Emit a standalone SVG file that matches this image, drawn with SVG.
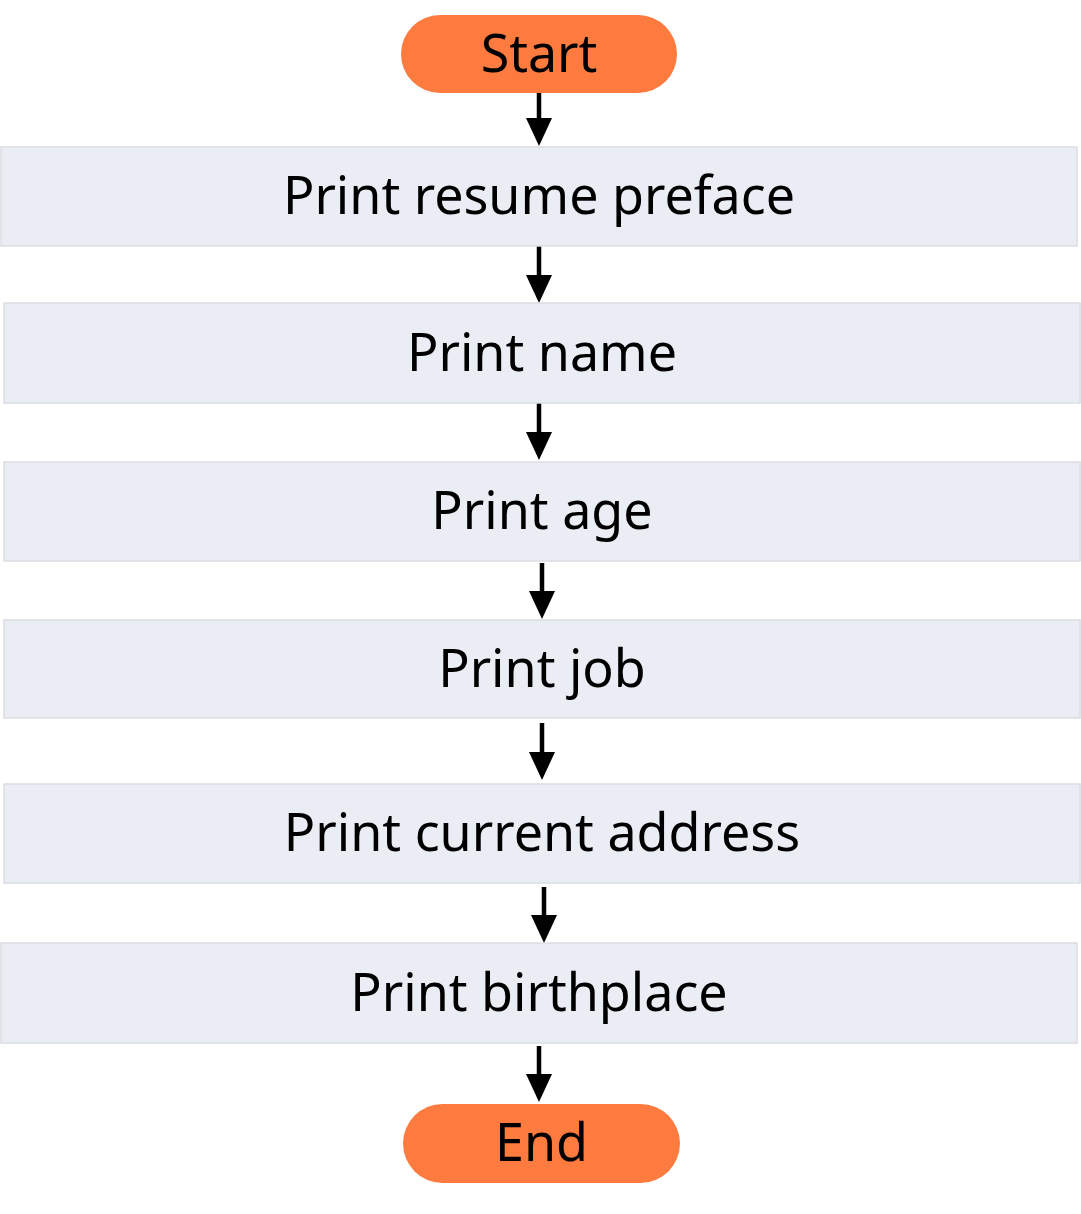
<svg xmlns="http://www.w3.org/2000/svg" width="1081" height="1214" viewBox="0 0 1081 1214">
<style>
.term{fill:#FE7B40;}
.box{fill:#EBEDF5;stroke:#DCDDE2;stroke-width:1.5;}
.lbl{font-family:"Noto Sans","Open Sans",sans-serif;font-size:52px;fill:#000;text-anchor:middle;}
.edge{stroke:#000;stroke-width:4.5;fill:none;}
.head{fill:#000;}
</style>
<rect width="1081" height="1214" fill="#fff"/>
<g id="connectors">
<line class="edge" x1="539" y1="93" x2="539" y2="120"/><path class="head" d="M526,118 L552,118 L539,146 Z"/>
<line class="edge" x1="539" y1="246" x2="539" y2="277"/><path class="head" d="M526,275 L552,275 L539,303 Z"/>
<line class="edge" x1="539" y1="403" x2="539" y2="434"/><path class="head" d="M526,432 L552,432 L539,460 Z"/>
<line class="edge" x1="542" y1="563" x2="542" y2="593"/><path class="head" d="M529,591 L555,591 L542,619 Z"/>
<line class="edge" x1="542" y1="723" x2="542" y2="754"/><path class="head" d="M529,752 L555,752 L542,780 Z"/>
<line class="edge" x1="544" y1="887" x2="544" y2="917"/><path class="head" d="M531,915 L557,915 L544,943 Z"/>
<line class="edge" x1="539" y1="1046" x2="539" y2="1076"/><path class="head" d="M526,1074 L552,1074 L539,1102 Z"/>
</g>
<g id="start"><rect class="term" x="401" y="15" width="276" height="78" rx="39"/><text class="lbl" x="539" y="72">Start</text></g>
<g id="n1"><rect class="box" x="1" y="147" width="1076" height="99"/><text class="lbl" x="539" y="214">Print resume preface</text></g>
<g id="n2"><rect class="box" x="4" y="303" width="1076" height="100"/><text class="lbl" x="542" y="371">Print name</text></g>
<g id="n3"><rect class="box" x="4" y="462" width="1076" height="99"/><text class="lbl" x="542" y="529">Print age</text></g>
<g id="n4"><rect class="box" x="4" y="620" width="1076" height="98"/><text class="lbl" x="542" y="687">Print job</text></g>
<g id="n5"><rect class="box" x="4" y="784" width="1076" height="99"/><text class="lbl" x="542" y="851">Print current address</text></g>
<g id="n6"><rect class="box" x="1" y="943" width="1076" height="100"/><text class="lbl" x="539" y="1011">Print birthplace</text></g>
<g id="end"><rect class="term" x="403" y="1104" width="277" height="79" rx="39.5"/><text class="lbl" x="541.5" y="1161">End</text></g>
</svg>
